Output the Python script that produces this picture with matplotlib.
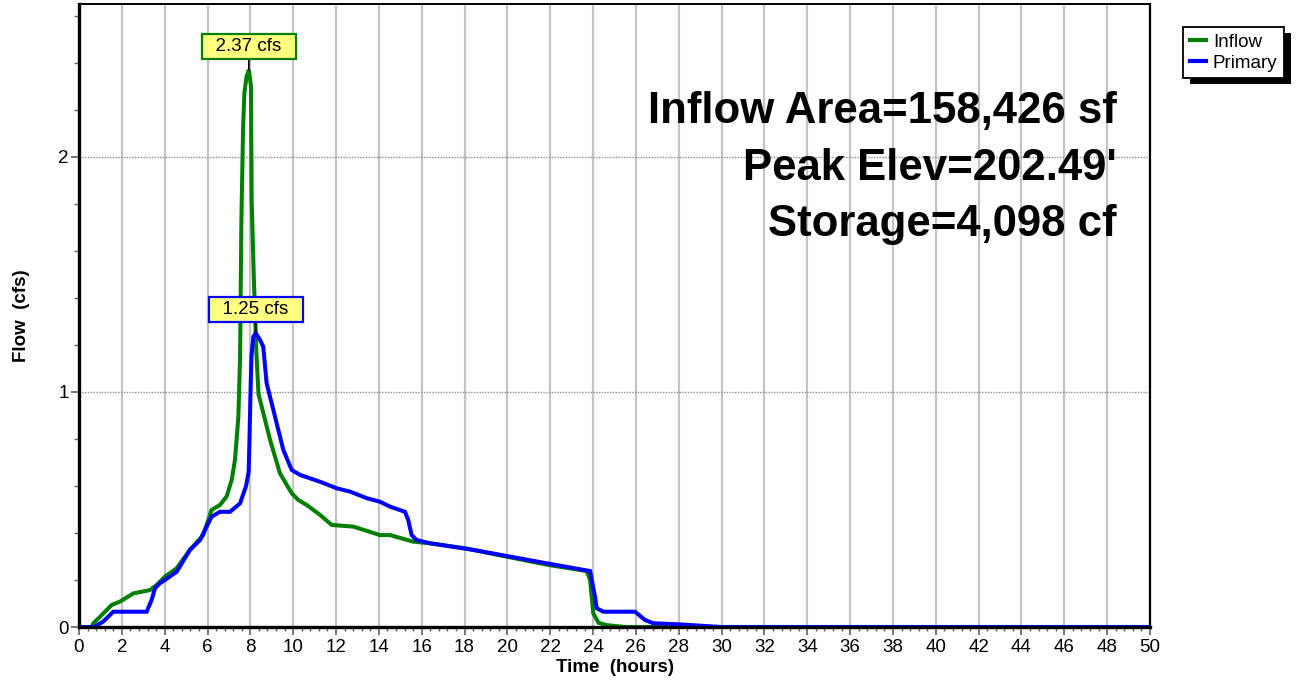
import matplotlib
matplotlib.use("Agg")
import numpy as np
import matplotlib.pyplot as plt
from matplotlib.ticker import MultipleLocator
from matplotlib.patches import Rectangle

plt.rcParams["font.family"] = ["Liberation Sans", "DejaVu Sans"]

# Hydrograph ordinates (hours, cfs)
inflow_t = [0, 0.6, 0.67, 1.0, 1.53, 1.91, 2.54, 3.31, 3.63, 4.01, 4.56, 5.18, 5.80,
            6.19, 6.58, 6.89, 7.13, 7.28, 7.36, 7.44, 7.52, 7.58, 7.66, 7.72, 7.82,
            7.93, 8.03, 8.06, 8.16, 8.28, 8.38, 8.53, 8.92, 9.38, 9.93, 10.24, 10.63,
            11.25, 11.80, 12.81, 14.05, 14.52, 15.61, 16.39, 18.02, 19.97, 21.91,
            23.70, 23.86, 24.01, 24.25, 24.63, 25.5, 50]
inflow_q = [0, 0, 0.016, 0.045, 0.094, 0.108, 0.143, 0.157, 0.179, 0.214, 0.25, 0.328,
            0.391, 0.498, 0.519, 0.555, 0.626, 0.71, 0.80, 0.895, 1.15, 1.72, 2.12,
            2.27, 2.34, 2.37, 2.30, 1.82, 1.49, 1.17, 0.99, 0.937, 0.796, 0.654, 0.569,
            0.540, 0.519, 0.477, 0.434, 0.427, 0.391, 0.391, 0.363, 0.356, 0.335,
            0.299, 0.264, 0.238, 0.2, 0.058, 0.018, 0.008, 0.0, 0.0]

primary_t = [0, 0.7, 1.13, 1.60, 3.16, 3.39, 3.55, 3.78, 4.01, 4.56, 5.18, 5.65, 5.96,
             6.19, 6.58, 7.05, 7.52, 7.80, 7.92, 7.96, 8.00, 8.05, 8.14, 8.25, 8.45,
             8.60, 8.76, 9.15, 9.54, 9.93, 10.32, 11.25, 12.03, 12.65, 13.43, 14.05,
             14.52, 15.22, 15.37, 15.53, 15.76, 16.39, 18.41, 21.83, 23.86, 24.09,
             24.17, 24.48, 25.96, 26.42, 26.81, 28.06, 30, 50]
primary_q = [0, 0, 0.023, 0.065, 0.065, 0.115, 0.165, 0.186, 0.2, 0.235, 0.328, 0.37,
             0.427, 0.469, 0.49, 0.49, 0.526, 0.60, 0.66, 0.80, 0.97, 1.15, 1.235,
             1.25, 1.221, 1.193, 1.037, 0.895, 0.753, 0.668, 0.647, 0.618, 0.59,
             0.576, 0.548, 0.533, 0.512, 0.49, 0.455, 0.391, 0.37, 0.356, 0.328,
             0.271, 0.238, 0.129, 0.08, 0.065, 0.065, 0.03, 0.016, 0.011, 0, 0]

series_names = ["Inflow", "Primary"]
series_colors = ["#008000", "#0000ff"]

summary_lines = ["Inflow Area=158,426 sf", "Peak Elev=202.49'", "Storage=4,098 cf"]

W, H = 1296, 684
fig = plt.figure(figsize=(W / 100, H / 100), dpi=100)
ax = fig.add_axes([79 / W, 57 / H, (1150 - 79) / W, (627 - 4) / H])

ax.set_xlim(0, 50)
ax.set_ylim(0, 2.65)
ax.set_xticks(np.arange(0, 51, 2))
ax.xaxis.set_minor_locator(MultipleLocator(0.4))
ax.set_yticks([0, 1, 2])
ax.yaxis.set_minor_locator(MultipleLocator(0.2))

ax.set_axisbelow(True)
ax.grid(axis="x", which="major", color="#c4c4c4", lw=1.6, ls="-")
ax.grid(axis="y", which="major", color="#8c8c8c", lw=1.0, ls=(0, (1, 1)))

ax.tick_params(axis="x", which="major", direction="out", length=5.5, width=1.2,
               color="#606060", labelsize=13.5, pad=3.5)
ax.tick_params(axis="x", which="minor", direction="out", length=3, width=1.0,
               color="#606060")
ax.tick_params(axis="y", which="major", direction="out", length=5.5, width=1.2,
               color="#606060", labelsize=13.5, pad=2)
ax.tick_params(axis="y", which="minor", direction="out", length=3.5, width=1.0,
               color="#606060")

ax.spines["left"].set_linewidth(2.4)
ax.spines["bottom"].set_linewidth(2.4)
ax.spines["top"].set_linewidth(1.4)
ax.spines["right"].set_linewidth(1.6)

handles = []
for t, q, name, col in [(inflow_t, inflow_q, series_names[0], series_colors[0]),
                        (primary_t, primary_q, series_names[1], series_colors[1])]:
    (ln,) = ax.plot(t, q, color=col, lw=2.9, label=name, solid_joinstyle="miter")
    handles.append(ln)

# Peak callouts
for t, q, col in [(inflow_t, inflow_q, series_colors[0]),
                  (primary_t, primary_q, series_colors[1])]:
    i = int(np.argmax(q))
    ax.annotate(f"  {q[i]:.2f} cfs  ", xy=(t[i], q[i]), xytext=(0, 15),
                textcoords="offset pixels", ha="center", va="bottom", fontsize=13.5,
                bbox=dict(boxstyle="square,pad=0.2", fc="#ffff80", ec=col, lw=1.6),
                arrowprops=dict(arrowstyle="-", color="black", lw=1.2,
                                shrinkA=0, shrinkB=0),
                zorder=6)

ax.set_xlabel("Time  (hours)", fontsize=13.5, fontweight="bold")
ax.set_ylabel("Flow  (cfs)", fontsize=13.5, fontweight="bold")
ax.xaxis.set_label_coords(0.5, -0.052)
ax.yaxis.set_label_coords(-0.046, 0.5)

for k, line in enumerate(summary_lines):
    fig.text(1117 / W, 1 - (123 + 56.5 * k) / H, line, ha="right", va="baseline",
             fontsize=31.5, fontweight="bold")

leg = fig.legend(handles=handles, loc="upper left",
                 bbox_to_anchor=(1183 / W, 1 - 27 / H), frameon=True, fancybox=False,
                 edgecolor="black", framealpha=1, fontsize=13.5, handlelength=0.85,
                 handletextpad=0.4, borderpad=0.35, labelspacing=0.2,
                 borderaxespad=0)
leg.get_frame().set_linewidth(1.3)
for lh in leg.get_lines():
    lh.set_linewidth(3.0)

fig.canvas.draw()
bb = leg.get_window_extent()
inv = fig.transFigure.inverted()
(x0, y0) = inv.transform((bb.x0 + 7, bb.y0 - 6))
(x1, y1) = inv.transform((bb.x1 + 7, bb.y1 - 6))
fig.patches.append(Rectangle((x0, y0), x1 - x0, y1 - y0, transform=fig.transFigure,
                             fc="black", ec="none", zorder=leg.get_zorder() - 1,
                             figure=fig))

fig.savefig("out.png", dpi=100)
